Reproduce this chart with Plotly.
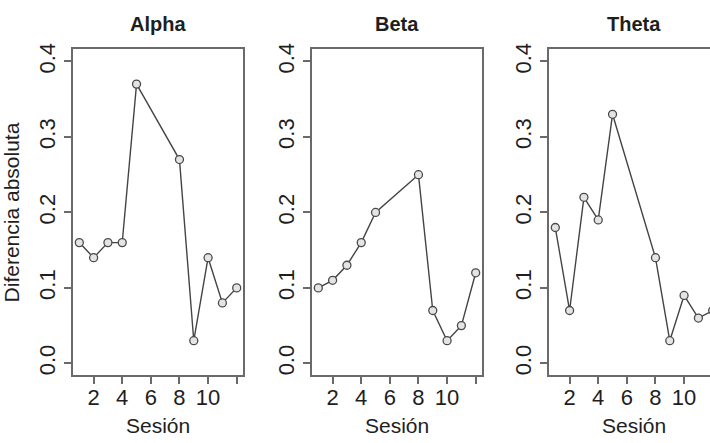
import plotly.graph_objects as go

# ---- data ----
sessions = [1, 2, 3, 4, 5, 8, 9, 10, 11, 12]
alpha = [0.16, 0.14, 0.16, 0.16, 0.37, 0.27, 0.03, 0.14, 0.08, 0.10]
beta = [0.10, 0.11, 0.13, 0.16, 0.20, 0.25, 0.07, 0.03, 0.05, 0.12]
theta = [0.18, 0.07, 0.22, 0.19, 0.33, 0.14, 0.03, 0.09, 0.06, 0.07]
panel_titles = ["Alpha", "Beta", "Theta"]
x_tick_vals = [2, 4, 6, 8, 10, 12]
x_tick_text = ["2", "4", "6", "8", "10", ""]
y_tick_vals = [0.0, 0.1, 0.2, 0.3, 0.4]
y_tick_text = ["0.0", "0.1", "0.2", "0.3", "0.4"]
x_title = "Sesión"
y_title = "Diferencia absoluta"

W, H = 710, 443
FONT = "Liberation Sans, Arial, Helvetica, sans-serif"
AX = "#6a6a6a"
LINE = "#444444"
TXT = "#1e1e1e"

# R-style 4% padding of the axis ranges
xmin, xmax = min(sessions), max(sessions)
xpad = 0.04 * (xmax - xmin)
x_range = [xmin - xpad, xmax + xpad]
y_range = [0 - 0.04 * 0.4, 0.4 + 0.04 * 0.4]

# panel boxes in pixels
boxes = [(73, 243), (312, 482), (549, 719)]
ytop, ybot = 44, 374.5
ydom = [(H - ybot) / H, (H - ytop) / H]

fig = go.Figure()
series = [alpha, beta, theta]
for i, (vals, (x0, x1)) in enumerate(zip(series, boxes)):
    n = "" if i == 0 else str(i + 1)
    fig.add_trace(go.Scatter(
        x=sessions, y=vals, mode="lines+markers",
        line=dict(color=LINE, width=1.4),
        marker=dict(symbol="circle", size=8, color="#e4e4e4",
                    line=dict(color="#4a4a4a", width=1.3)),
        xaxis="x" + n, yaxis="y" + n, showlegend=False,
        cliponaxis=True, hoverinfo="skip",
    ))
    px_per_unit = (x1 - x0) / (x_range[1] - x_range[0])
    vis_x1 = min(x1, W)
    xr = [x_range[0], x_range[0] + (vis_x1 - x0) / px_per_unit]
    common = dict(showline=True, linecolor=AX, linewidth=1.6,
                  ticks="outside", ticklen=7, tickwidth=1.6, tickcolor=AX,
                  showgrid=False, zeroline=False,
                  tickfont=dict(family=FONT, size=22, color=TXT))
    fig.update_layout(**{
        "xaxis" + n: dict(domain=[x0 / W, vis_x1 / W], range=xr,
                          anchor="y" + n, mirror=True,
                          tickvals=x_tick_vals, ticktext=x_tick_text,
                          ticklabelstandoff=-6,
                          **common),
        "yaxis" + n: dict(domain=ydom, range=y_range, anchor="x" + n,
                          mirror=(x1 <= W),
                          tickvals=y_tick_vals, ticktext=y_tick_text,
                          tickangle=-90, **common),
    })
    cx = ((x0 + x1) / 2) / W
    fig.add_annotation(text="<b>%s</b>" % panel_titles[i], x=cx, y=(H - 18) / H,
                       xref="paper", yref="paper", showarrow=False,
                       xanchor="center", yanchor="middle",
                       font=dict(family=FONT, size=20, color=TXT))
    fig.add_annotation(text=x_title, x=cx, y=(H - 425) / H,
                       xref="paper", yref="paper", showarrow=False,
                       xanchor="center", yanchor="middle",
                       font=dict(family=FONT, size=21, color=TXT))

fig.add_annotation(text=y_title, x=11 / W, y=(H - (ytop + ybot) / 2) / H,
                   xref="paper", yref="paper", showarrow=False, textangle=-90,
                   xanchor="center", yanchor="middle",
                   font=dict(family=FONT, size=21, color=TXT))

fig.update_layout(width=W, height=H, margin=dict(l=0, r=0, t=0, b=0),
                  paper_bgcolor="white", plot_bgcolor="white",
                  font=dict(family=FONT, color=TXT), hovermode=False)

fig.write_html("out.html", config={"displayModeBar": False},
               post_script="document.body.style.margin='0';"
                           "document.body.style.overflow='hidden';")
